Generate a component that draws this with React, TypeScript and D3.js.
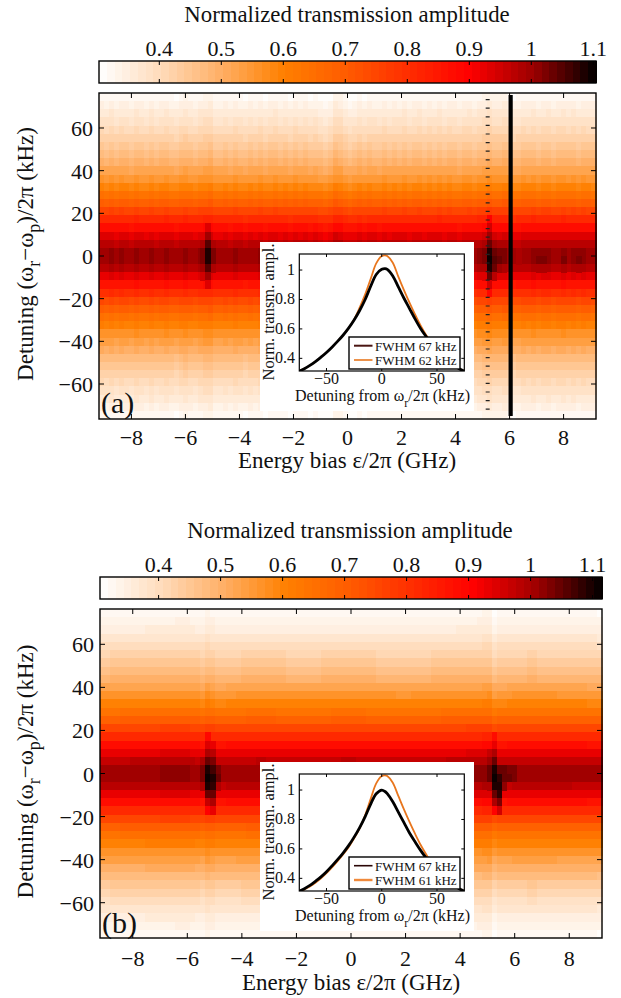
import React from "react";
import * as d3 from "d3";

// ---------- data ----------
const xTicks = [-8, -6, -4, -2, 0, 2, 4, 6, 8];
const yTicks = [-60, -40, -20, 0, 20, 40, 60];
const barTicks = [0.4, 0.5, 0.6, 0.7, 0.8, 0.9, 1, 1.1];
const insetXTicks = [-50, 0, 50];
const insetYTicks = [0.4, 0.6, 0.8, 1];

const colorStops = [0.303, 0.4, 0.5, 0.6, 0.7, 0.8, 0.9, 1.0, 1.105];
const colorValues = ["#ffffff", "#ffdcbc", "#ffaf66", "#ff8000", "#ff5c00", "#ff2e00", "#ff0000", "#a00000", "#000000"];

const rowsA = [.32, .34, .36, .38, .40, .42, .44, .465, .49, .52, .55, .59, .64, .69, .75, .81, .87, .93, .97, 1.0,
  1.0, .975, .925, .86, .80, .74, .69, .64, .60, .56, .53, .50, .47, .445, .42, .40, .38, .36, .34, .32];
const rowsB = [.32, .335, .35, .37, .395, .415, .44, .465, .49, .52, .555, .595, .64, .69, .75, .81, .87, .925, .965, 1.0,
  1.0, .97, .925, .87, .81, .75, .69, .64, .60, .56, .53, .50, .47, .44, .415, .39, .37, .35, .335, .32];

const colsA = [.004, .000, .006, -.003, .005, .002, -.004, .007, .001, -.002,
  .006, -.003, .002, .008, .000, -.005, .004, .009, .002, -.002,
  .006, .012, .014, -.002, -.002, .003, -.004, .005, .000, -.006,
  .003, -.002, .005, -.005, .001, .006, -.003, .002, -.006, .004,
  -.002, .003, -.005, .000, -.010, -.018, -.008, .014, .012, -.004,
  -.012, -.008, .002, -.006, .003, .000, -.004, .005, -.002, .003,
  .000, .006, -.003, .002, .006, -.002, .004, .000, .007, -.003,
  .005, .001, -.004, .004, .006, .000, .008, .012, .020, .010,
  .010, .014, .004, -.006, -.004, .004, .002, .007, .000, .005,
  .006, .000, .004, .008, .002, .006, .000, .005, .003, .001];
const colsB = [.000, .000, .001, .001, .002, .002, .003, .003, .003, .004,
  .004, .004, .005, .005, .005, .006, .006, .006, .004, .002,
  -.004, .012, .006, -.004, -.004, -.002, -.002, .000, .001, .002,
  .002, .003, .003, .002, .002, .001, .001, .000, .000, -.001,
  -.001, -.001, .000, .000, .001, .001, .002, .002, .003, .003,
  .003, .002, .002, .001, .001, .000, .000, -.001, -.001, -.002,
  -.002, -.002, -.001, -.001, .000, .000, .001, .001, .002, .003,
  .003, .004, .004, .005, .005, .006, .010, .012, -.014, -.004,
  -.004, -.003, -.001, .000, .000, .001, .001, .000, .000, -.001,
  -.001, -.002, -.002, -.002, -.003, -.003, -.003, -.004, -.004, -.005];

// [column position, first row, values down the rows]
const spotsA: [number, number, number[]][] = [
  [20.4, 18, [.99, 1.02, 1.025, 1.0, .95]],
  [22.4, 18, [.98, 1.02, 1.025, .99]],
  [21.4, 16, [.93, 1.0, 1.05, 1.09, 1.09, 1.05, 1.0, .93]],
  [77, 17, [.95, .99, 1.025, 1.025, .99, .93]],
  [79, 17, [.95, 1.0, 1.03, 1.05, 1.03, .97]],
  [78, 15, [.90, .95, 1.0, 1.04, 1.08, 1.10, 1.08, 1.03, .95, .88]],
  [80, 19, [1.02, 1.03, 1.0]],
  [81, 19, [1.02, 1.025, .99]],
  [84, 19, [.98, .99]],
  [88, 19, [1.015, 1.02, .98]],
  [89, 19, [1.015, 1.02, .98]],
  [93, 19, [1.015, 1.02, .98]],
  [96, 19, [1.015, 1.02, .98]],
];
const spotsB: [number, number, number[]][] = [
  [20, 18, [.98, 1.02, 1.02, .98]],
  [23, 19, [1.02, 1.03, .99]],
  [21, 15, [.88, .93, .98, 1.04, 1.08, 1.1, 1.09, 1.03, .96, .9]],
  [22, 16, [.92, .97, 1.02, 1.06, 1.08, 1.07, 1.03, .98, .92]],
  [77, 17, [.96, 1.0, 1.03, 1.03, .99]],
  [78, 15, [.87, .92, .98, 1.04, 1.08, 1.1, 1.08, 1.04, .98, .9]],
  [79, 19, [1.04, 1.07, 1.09, 1.07, 1.02, .95]],
  [80, 19, [1.03, 1.04, 1.01]],
  [81, 19, [1.02, 1.03]],
  [82, 19, [1.02, 1.02]],
];

const inX = [-75, -70, -65, -60, -55, -50, -45, -40, -35, -30, -25, -20, -15, -10, -5, 0, 3, 5, 10, 15, 20, 25, 30, 35, 40, 45, 50, 55, 60, 65, 70, 75];
const blackA = [.312, .33, .352, .378, .408, .44, .476, .515, .557, .605, .66, .725, .80, .89, .97, 1.005, 1.01, 1.005, .96, .885, .81, .74, .67, .605, .55, .50, .455, .415, .38, .352, .33, .312];
const orangeA = [.312, .33, .352, .378, .408, .44, .476, .515, .557, .605, .665, .745, .835, .94, 1.045, 1.095, 1.10, 1.095, 1.05, .955, .865, .78, .70, .625, .56, .505, .455, .415, .38, .352, .33, .312];
const blackB = [.312, .33, .352, .38, .41, .445, .485, .527, .572, .622, .68, .745, .82, .905, .975, 1.0, .99, .975, .92, .85, .78, .71, .65, .592, .54, .49, .45, .41, .38, .352, .33, .312];
const orangeB = [.31, .325, .345, .37, .40, .435, .475, .517, .562, .612, .672, .74, .83, .94, 1.045, 1.095, 1.10, 1.095, 1.05, .96, .87, .785, .705, .63, .565, .505, .455, .415, .38, .352, .33, .312];

// ---------- helpers ----------
const FONT = "'Liberation Serif', 'Times New Roman', serif";
const fmtMinus = (v: number) => (v < 0 ? "\u2212" + Math.abs(v) : String(v));

const baseColor = d3.scaleLinear<string>().domain(colorStops).range(colorValues).clamp(true);
const LEVELS = 64;
const levelScale = d3.scaleQuantize<number>().domain([0.303, 1.105]).range(d3.range(LEVELS));
const levelColor = (l: number) => baseColor(0.303 + ((l + 0.5) / LEVELS) * (1.105 - 0.303));
const cmap = (v: number) => levelColor(levelScale(v) as number);

type Layout = {
  left: number; right: number; top: number; bottom: number;
  barTop: number; barBottom: number; bar04: number; barStep: number;
  titleX: number; titleY: number; barLabelY: number; xLabelX: number; xLabelY: number; xTickY: number;
  tag: string; tagY: number; insetDy: number;
  rows: number[]; cols: number[]; spots: [number, number, number[]][];
  black: number[]; orange: number[]; legend: string[];
  legendW: number[]; legendColor: string[];
};

const layoutA: Layout = {
  left: 99, right: 596, top: 93, bottom: 419,
  barTop: 61, barBottom: 83, bar04: 159.3, barStep: 62,
  titleX: 347, titleY: 22, barLabelY: 56, xLabelX: 347, xLabelY: 468, xTickY: 445,
  tag: "(a)", tagY: 413, insetDy: 0,
  rows: rowsA, cols: colsA, spots: spotsA, black: blackA, orange: orangeA,
  legend: ["FWHM 67 kHz", "FWHM 62 kHz"], legendW: [2, 1.6], legendColor: ["#4a1512", "#e8761e"],
};
const layoutB: Layout = {
  left: 100, right: 602, top: 609, bottom: 938,
  barTop: 577, barBottom: 599, bar04: 158.6, barStep: 62,
  titleX: 350, titleY: 538, barLabelY: 572, xLabelX: 351, xLabelY: 990, xTickY: 966,
  tag: "(b)", tagY: 933, insetDy: 520,
  rows: rowsB, cols: colsB, spots: spotsB, black: blackB, orange: orangeB,
  legend: ["FWHM 67 kHz", "FWHM 61 kHz"], legendW: [1.6, 2.4], legendColor: ["#2a0606", "#f08a3c"],
};

function Inset({ L }: { L: Layout }) {
  const dy = L.insetDy;
  const ix = d3.scaleLinear().domain([-74.6, 74.7]).range([299.3, 464.3]);
  const iy = d3.scaleLinear().domain([0.314, 1.109]).range([371 + dy, 254 + dy]);
  const line = d3.line<number>().x((_, i) => ix(inX[i])).y(d => iy(d)).curve(d3.curveCatmullRom);
  const clip = "clip" + L.tag[1];
  return (
    <g fontFamily={FONT} fill="#111">
      <rect x={260} y={242 + dy} width={214} height={169} fill="#fff" />
      <clipPath id={clip}><rect x={299.3} y={254 + dy} width={165} height={117} /></clipPath>
      <g clipPath={`url(#${clip})`} fill="none">
        <path d={line(L.orange) || ""} stroke="#e8761e" strokeWidth={1.8} />
        <path d={line(L.black) || ""} stroke="#000" strokeWidth={2.8} />
      </g>
      <rect x={299.3} y={254 + dy} width={165} height={117} fill="none" stroke="#000" strokeWidth={1.2} />
      {insetXTicks.map(t => (
        <g key={t}>
          <line x1={ix(t)} x2={ix(t)} y1={371 + dy} y2={368 + dy} stroke="#000" />
          <line x1={ix(t)} x2={ix(t)} y1={254 + dy} y2={257 + dy} stroke="#000" />
          <text x={ix(t)} y={384 + dy} fontSize={16} textAnchor="middle">{fmtMinus(t)}</text>
        </g>
      ))}
      {insetYTicks.map(t => (
        <g key={t}>
          <line x1={299.3} x2={302.3} y1={iy(t)} y2={iy(t)} stroke="#000" />
          <line x1={464.3} x2={461.3} y1={iy(t)} y2={iy(t)} stroke="#000" />
          <text x={295} y={iy(t) + 5} fontSize={16} textAnchor="end">{t}</text>
        </g>
      ))}
      <text transform={`translate(274,${312 + dy}) rotate(-90)`} fontSize={16.5} textAnchor="middle">Norm. transm. ampl.</text>
      <text x={295} y={400.5 + dy} fontSize={16}>
        Detuning from ω<tspan dy={6} fontSize={12}>r</tspan><tspan dy={-6}>/2π (kHz)</tspan>
      </text>
      <rect x={349} y={337 + dy} width={111} height={32} fill="#fff" stroke="#000" strokeWidth={1.4} />
      {L.legend.map((s, i) => (
        <g key={s}>
          <line x1={354} x2={372.5} y1={345.7 + dy + i * 14.3} y2={345.7 + dy + i * 14.3} stroke={L.legendColor[i]} strokeWidth={L.legendW[i]} />
          <text x={375} y={350.5 + dy + i * 14.3} fontSize={13}>{s}</text>
        </g>
      ))}
    </g>
  );
}

function Panel({ L }: { L: Layout }) {
  const x = d3.scaleLinear().domain([-9.2, 9.2]).range([L.left, L.right]);
  const y = d3.scaleLinear().domain([76.4, -76.4]).range([L.top, L.bottom]);
  const colBand = d3.scaleBand<number>().domain(d3.range(L.cols.length)).range([L.left, L.right]);
  const colPos = d3.scaleLinear().domain([0, L.cols.length]).range([L.left, L.right]);
  const rowBand = d3.scaleBand<number>().domain(d3.range(L.rows.length)).range([L.top, L.bottom]);
  const bar = d3.scaleLinear().domain([0.4, 0.5]).range([L.bar04, L.bar04 + L.barStep]);
  const barLevel = d3.scaleBand<number>().domain(d3.range(LEVELS)).range([L.left, L.right]);
  return (
    <g fontFamily={FONT} fill="#111">
      <text x={L.titleX} y={L.titleY} fontSize={22.8} textAnchor="middle">Normalized transmission amplitude</text>
      {barTicks.map(t => (
        <text key={t} x={bar(t)} y={L.barLabelY} fontSize={22} textAnchor="middle">{t}</text>
      ))}
      <g shapeRendering="crispEdges">
        {d3.range(LEVELS).map(l => (
          <rect key={l} x={barLevel(l)} y={L.barTop} width={barLevel.bandwidth() + 0.5} height={L.barBottom - L.barTop} fill={levelColor(l)} />
        ))}
      </g>
      <rect x={L.left} y={L.barTop} width={L.right - L.left} height={L.barBottom - L.barTop} fill="none" stroke="#000" strokeWidth={1.4} />
      {barTicks.map(t => (
        <g key={t} stroke="#000">
          <line x1={bar(t)} x2={bar(t)} y1={L.barTop} y2={L.barTop + 4} />
          <line x1={bar(t)} x2={bar(t)} y1={L.barBottom} y2={L.barBottom - 4} />
        </g>
      ))}
      <g shapeRendering="crispEdges">
        {L.rows.map((rv, r) => L.cols.map((cv, c) => (
          <rect key={`${c}-${r}`} x={colBand(c)} y={rowBand(r)} width={colBand.bandwidth() + 0.6} height={rowBand.bandwidth() + 0.6} fill={cmap(rv + cv)} />
        )))}
        {L.spots.map(([c, r0, vals]) => vals.map((v, k) => (
          <rect key={`s${c}-${k}`} x={colPos(c)} y={rowBand(r0 + k)} width={colBand.bandwidth() + 0.6} height={rowBand.bandwidth() + 0.6} fill={cmap(v)} />
        )))}
      </g>
      {L.tag === "(a)" && (
        <g stroke="#000">
          <line x1={x(5.19)} x2={x(5.19)} y1={99} y2={416} strokeWidth={4} strokeDasharray="1.2 7.4" stroke="#222" />
          <line x1={x(6.04)} x2={x(6.04)} y1={95} y2={416} strokeWidth={4.2} />
        </g>
      )}
      <Inset L={L} />
      <text x={L.left + 2} y={L.tagY} fontSize={30}>{L.tag}</text>
      <rect x={L.left} y={L.top} width={L.right - L.left} height={L.bottom - L.top} fill="none" stroke="#000" strokeWidth={1.4} />
      {xTicks.map(t => (
        <g key={t}>
          <line x1={x(t)} x2={x(t)} y1={L.bottom} y2={L.bottom - 5} stroke="#000" />
          <line x1={x(t)} x2={x(t)} y1={L.top} y2={L.top + 5} stroke="#000" />
          <text x={x(t)} y={L.xTickY} fontSize={22} textAnchor="middle">{fmtMinus(t)}</text>
        </g>
      ))}
      {yTicks.map(t => (
        <g key={t}>
          <line x1={L.left} x2={L.left + 5} y1={y(t)} y2={y(t)} stroke="#000" />
          <line x1={L.right} x2={L.right - 5} y1={y(t)} y2={y(t)} stroke="#000" />
          <text x={L.left - 6} y={y(t) + 8} fontSize={22} textAnchor="end">{fmtMinus(t)}</text>
        </g>
      ))}
      <text x={L.xLabelX} y={L.xLabelY} fontSize={23} textAnchor="middle">Energy bias ε/2π (GHz)</text>
      <text transform={`translate(33,${(L.top + L.bottom) / 2 - 2}) rotate(-90)`} fontSize={23} textAnchor="middle">
        Detuning (ω<tspan dy={7} fontSize={18}>r</tspan><tspan dy={-7}>−ω</tspan><tspan dy={7} fontSize={18}>p</tspan><tspan dy={-7}>)/2π (kHz)</tspan>
      </text>
    </g>
  );
}

export default function App() {
  return (
    <svg width={621} height={998} viewBox="0 0 621 998" style={{ position: "absolute", left: 0, top: 0, background: "#fff" }}>
      <Panel L={layoutA} />
      <Panel L={layoutB} />
    </svg>
  );
}
